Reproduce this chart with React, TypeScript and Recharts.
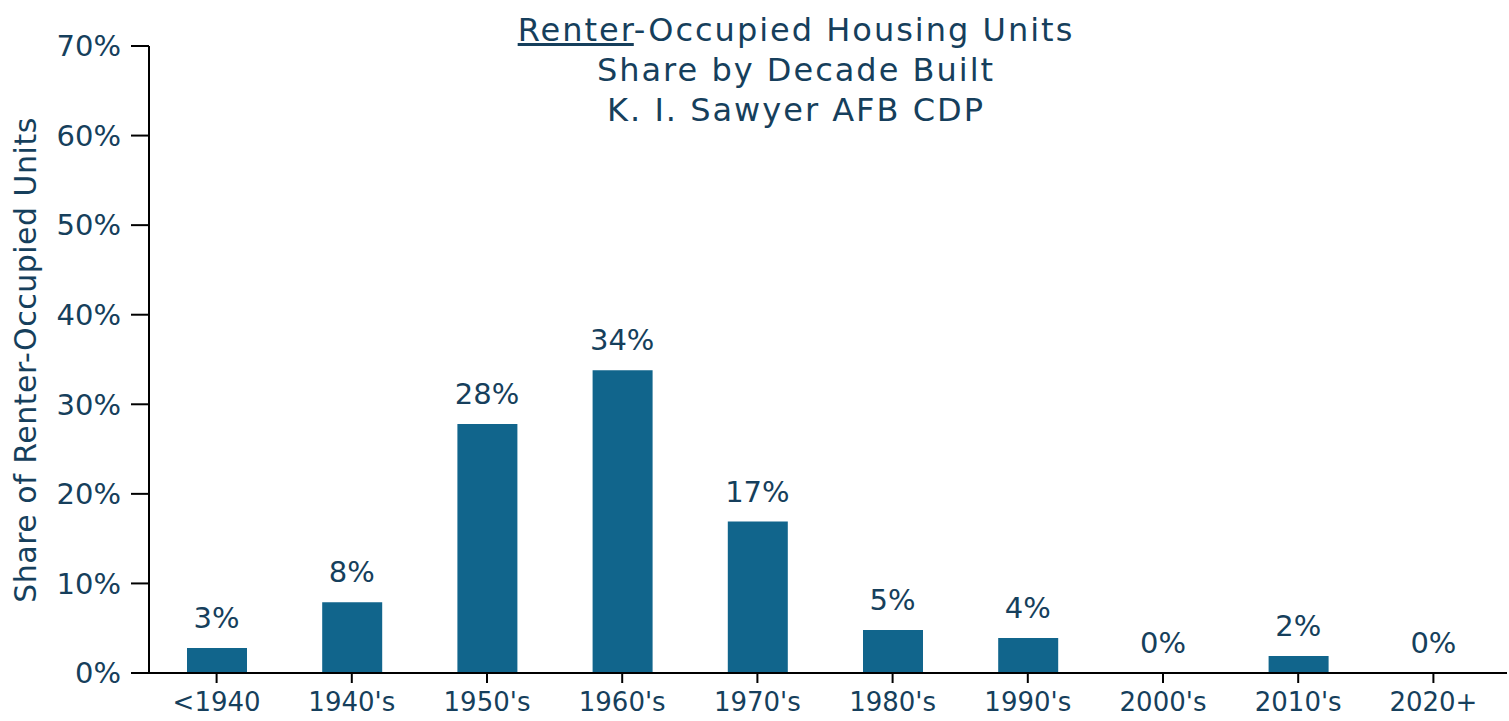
import React from 'react';
import { ComposedChart, Bar, Line, XAxis, YAxis, LabelList } from 'recharts';

const decades = ['<1940', "1940's", "1950's", "1960's", "1970's", "1980's", "1990's", "2000's", "2010's", '2020+'];
const shares = [2.8, 7.9, 27.8, 33.8, 16.9, 4.8, 3.9, 0, 1.9, 0];
const yTicks = [0, 10, 20, 30, 40, 50, 60, 70];

const TEXT = '#163f5c';
const BAR = '#11658c';
const FONT = '"DejaVu Sans", sans-serif';

export default function App() {
  const data = decades.map((d, i) => ({ name: d, share: shares[i] }));
  const tickStyle = { fill: TEXT, fontSize: 29, fontFamily: FONT };

  return (
    <div style={{ position: 'absolute', left: 0, top: 0, width: 1509, height: 721, background: '#fff', fontFamily: FONT }}>
      <ComposedChart width={1509} height={721} data={data} margin={{ top: 46, right: 2, bottom: 0, left: 0 }} barCategoryGap={0}>
        <YAxis
          width={149}
          domain={[0, 70]}
          ticks={yTicks}
          tickFormatter={(v) => `${v}%`}
          stroke="#000"
          strokeWidth={2}
          tickSize={18}
          tickMargin={10}
          tick={tickStyle}
          allowDataOverflow
        />
        <XAxis
          dataKey="name"
          height={48}
          stroke="#000"
          strokeWidth={2}
          tickSize={10}
          tickMargin={10}
          padding={{ left: 0, right: 6 }}
          interval={0}
          tick={{ ...tickStyle, fontSize: 26 }}
        />
        <Bar dataKey="share" fill={BAR} barSize={60} isAnimationActive={false} />
        {/* invisible line only carries the value labels, so 0% values still get one */}
        <Line dataKey="share" stroke="none" dot={false} activeDot={false} isAnimationActive={false}>
          <LabelList
            dataKey="share"
            position="top"
            offset={20}
            formatter={(v: any) => `${Math.round(v)}%`}
            style={tickStyle}
          />
        </Line>
      </ComposedChart>

      <div
        style={{
          position: 'absolute',
          left: 396,
          top: 10,
          width: 800,
          textAlign: 'center',
          color: TEXT,
          fontSize: 32,
          lineHeight: '40px',
          letterSpacing: 2,
        }}
      >
        <div><span style={{ textDecoration: 'underline' }}>Renter</span>-Occupied Housing Units</div>
        <div>Share by Decade Built</div>
        <div>K. I. Sawyer AFB CDP</div>
      </div>

      <div
        style={{
          position: 'absolute',
          left: 25,
          top: 360,
          transform: 'translate(-50%, -50%) rotate(-90deg)',
          whiteSpace: 'nowrap',
          color: TEXT,
          fontSize: 30,
          letterSpacing: 0.5,
        }}
      >
        Share of Renter-Occupied Units
      </div>
    </div>
  );
}
